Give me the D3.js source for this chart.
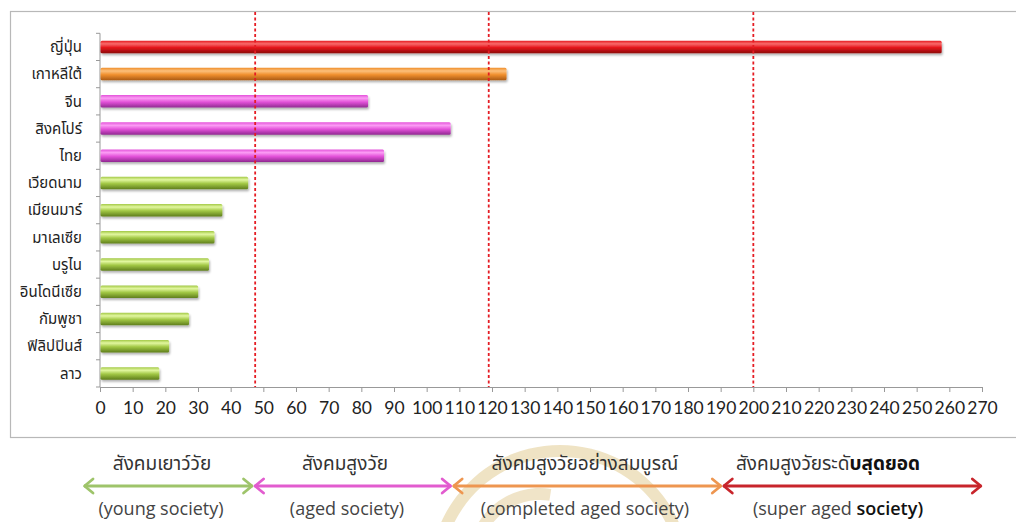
<!DOCTYPE html>
<html><head><meta charset="utf-8">
<script src="https://cdn.jsdelivr.net/npm/d3@7/dist/d3.min.js"></script>
<style>
html,body{margin:0;padding:0;background:#fff;}
svg{display:block;}
.thai{font-family:Tahoma,"Noto Sans Thai","Leelawadee UI","DejaVu Sans",sans-serif;}
.num{font-family:Lato,"Open Sans",sans-serif;}
.eng{font-family:"Open Sans",Lato,sans-serif;}
</style></head>
<body>
<svg id="c" width="1016" height="522"></svg>
<script>
const categories = ["ญี่ปุ่น","เกาหลีใต้","จีน","สิงคโปร์","ไทย","เวียดนาม","เมียนมาร์","มาเลเซีย","บรูไน","อินโดนีเซีย","กัมพูชา","ฟิลิปปินส์","ลาว"];
const values = [257.5, 124.3, 81.9, 107.2, 86.8, 45.2, 37.3, 34.9, 33.2, 29.9, 27.1, 21.0, 18.0];
const barGroup = ["super","completed","aged","aged","aged","young","young","young","young","young","young","young","young"];
const tickValues = [0,10,20,30,40,50,60,70,80,90,100,110,120,130,140,150,160,170,180,190,200,210,220,230,240,250,260,270];
const thresholds = [47.5, 119, 200];
const legendThai = [["สังคมเยาว์วัย",""],["สังคมสูงวัย",""],["สังคมสูงวัยอย่างสมบูรณ์",""],["สังคมสูงวัยระดั","บสุดยอด"]];
const legendEng = [["(young society)",""],["(aged society)",""],["(completed aged society)",""],["(super aged ","society)"]];
const legendStart = [-5.2, 47.0, 107.8, 190.5];
const legendEnd = [47.0, 107.8, 190.5, 270.1];
const legendGroup = ["young","aged","completed","super"];

const palette = {
  super:{top:"#f86a6a",mid:"#e5171c",bot:"#8f0a0a",arrow:"#c8252b"},
  completed:{top:"#fcc07c",mid:"#f08f2c",bot:"#a95a16",arrow:"#ee9650"},
  aged:{top:"#fb9cf4",mid:"#e452da",bot:"#8f2890",arrow:"#e25ccf"},
  young:{top:"#e2f7a0",mid:"#a2c845",bot:"#5f7e1c",arrow:"#9ec46a"}
};

const svg = d3.select("#c");
const defs = svg.append("defs");
Object.entries(palette).forEach(([k,c])=>{
  const g = defs.append("linearGradient").attr("id","g_"+k).attr("x1",0).attr("y1",0).attr("x2",0).attr("y2",1);
  g.append("stop").attr("offset","0%").attr("stop-color",c.mid);
  g.append("stop").attr("offset","25%").attr("stop-color",c.top);
  g.append("stop").attr("offset","55%").attr("stop-color",c.mid);
  g.append("stop").attr("offset","100%").attr("stop-color",c.bot);
});
const f = defs.append("filter").attr("id","sh").attr("x","-5%").attr("y","-50%").attr("width","110%").attr("height","220%");
f.append("feDropShadow").attr("dx",1).attr("dy",2).attr("stdDeviation",1.2).attr("flood-color","#000").attr("flood-opacity",0.3);

// watermark (faint logo arc)
svg.append("path")
  .attr("d", d3.arc()({innerRadius:118,outerRadius:130,startAngle:-Math.PI*0.62,endAngle:Math.PI*0.62}))
  .attr("transform","translate(560,575)")
  .attr("fill","#ead9b0").attr("opacity",0.75);
svg.append("path")
  .attr("d", d3.arc()({innerRadius:60,outerRadius:72,startAngle:-Math.PI*0.5,endAngle:Math.PI*0.05}))
  .attr("transform","translate(540,560)")
  .attr("fill","#ead9b0").attr("opacity",0.7);

// frame
svg.append("rect").attr("x",10.5).attr("y",11.5).attr("width",1020).attr("height",426)
  .attr("fill","none").attr("stroke","#b8b8b8").attr("stroke-width",1.2);

const x = d3.scaleLinear().domain([0,270]).range([100,982]);
const y = d3.scaleBand().domain(categories).range([33.3,387]).padding(0);

// category boundary ticks
svg.append("g").selectAll("line").data(d3.range(categories.length+1)).join("line")
  .attr("x1",96).attr("x2",100)
  .attr("y1",i=>y.range()[0]+i*y.step()).attr("y2",i=>y.range()[0]+i*y.step())
  .attr("stroke","#999");
svg.append("line").attr("x1",100).attr("x2",100).attr("y1",33.3).attr("y2",387).attr("stroke","#999");

// bars
const bh = y.bandwidth()*0.46;
svg.append("g").selectAll("rect").data(categories).join("rect")
  .attr("x",x(0)+0.5)
  .attr("y",d=>y(d)+y.bandwidth()/2-bh/2)
  .attr("width",(d,i)=>x(values[i])-x(0))
  .attr("height",bh)
  .attr("rx",1.5)
  .attr("fill",(d,i)=>"url(#g_"+barGroup[i]+")")
  .attr("filter","url(#sh)");

// category labels
svg.append("g").selectAll("text").data(categories).join("text")
  .attr("class","thai")
  .attr("x",82).attr("y",d=>y(d)+y.bandwidth()/2)
  .attr("dy","0.35em").attr("text-anchor","end")
  .attr("font-size",15).attr("fill","#222")
  .text(d=>d);

// x axis
const xa = svg.append("g").attr("transform","translate(0,387)")
  .call(d3.axisBottom(x).tickValues(tickValues).tickSize(5).tickPadding(10).tickSizeOuter(0));
xa.select(".domain").attr("stroke","#999");
xa.selectAll(".tick line").attr("stroke","#999");
xa.selectAll("text").attr("class","num").attr("font-size",17.5).attr("fill","#222");

// threshold lines
svg.append("g").selectAll("line").data(thresholds).join("line")
  .attr("x1",d=>x(d)).attr("x2",d=>x(d)).attr("y1",12).attr("y2",387)
  .attr("stroke","#e51c23").attr("stroke-width",1.8).attr("stroke-dasharray","3,2.5");

// legend arrows
const ay = 486;
const lg = svg.append("g");
legendGroup.forEach((g,i)=>{
  const col = palette[g].arrow;
  const x1 = x(legendStart[i]), x2 = x(legendEnd[i]);
  lg.append("line").attr("x1",x1+1).attr("x2",x2-1).attr("y1",ay).attr("y2",ay)
    .attr("stroke",col).attr("stroke-width",3);
  lg.append("path").attr("d",`M${x1+10},${ay-7}L${x1+1.5},${ay}L${x1+10},${ay+7}`)
    .attr("fill","none").attr("stroke",col).attr("stroke-width",2.8).attr("stroke-linecap","round").attr("stroke-linejoin","round");
  lg.append("path").attr("d",`M${x2-10},${ay-7}L${x2-1.5},${ay}L${x2-10},${ay+7}`)
    .attr("fill","none").attr("stroke",col).attr("stroke-width",2.8).attr("stroke-linecap","round").attr("stroke-linejoin","round");
});
const thaiCx = [162, 345, 585, 828];
const engCx = [161, 347, 585, 838];
legendThai.forEach((t,i)=>{
  const tt = lg.append("text").attr("class","thai").attr("x",thaiCx[i]).attr("y",463).attr("dy","0.35em")
    .attr("text-anchor","middle").attr("font-size",19).attr("fill","#333");
  tt.append("tspan").text(t[0]);
  if (t[1]) tt.append("tspan").attr("font-weight","bold").attr("fill","#111").text(t[1]);
  const te = lg.append("text").attr("class","eng").attr("x",engCx[i]).attr("y",509).attr("dy","0.35em")
    .attr("text-anchor","middle").attr("font-size",18).attr("fill","#444");
  te.append("tspan").text(legendEng[i][0]);
  if (legendEng[i][1]) te.append("tspan").attr("fill","#111").attr("font-weight","600").text(legendEng[i][1]);
});
</script>
</body></html>
